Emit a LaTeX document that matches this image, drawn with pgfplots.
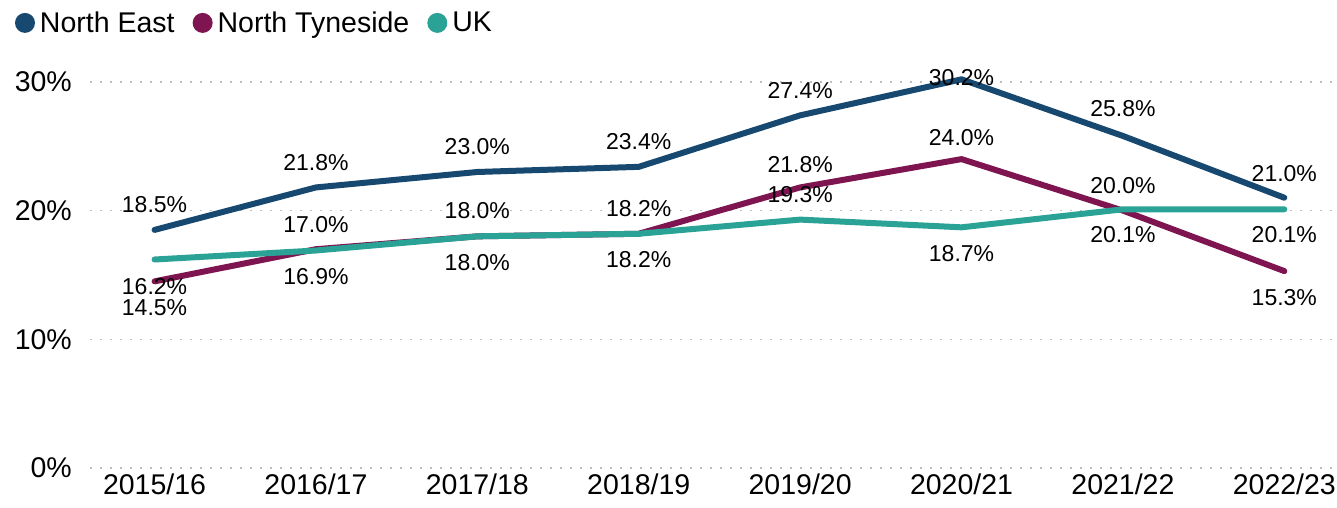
\documentclass[border=0pt]{standalone}
\usepackage{pgfplots}
\pgfplotsset{compat=1.18}
\usepackage{fontspec}
\setmainfont{Liberation Sans}
\definecolor{ne}{HTML}{174870}
\definecolor{nt}{HTML}{7E1450}
\definecolor{uk}{HTML}{2AA396}
\newcommand{\tickfont}{\fontsize{28.5}{30}\selectfont}
\newcommand{\labfont}{\fontsize{23}{25}\selectfont}
\tikzset{lbl/.style={font=\labfont, inner sep=0pt, anchor=center}}
\newcommand{\lab}[3]{\node[lbl,yshift=#3] at (axis cs:#1,#2) {#2\%};}
\begin{document}
\begin{tikzpicture}
\useasboundingbox (0,0) rectangle (1337pt,508pt);
\begin{axis}[at={(90pt,40pt)}, anchor=south west, scale only axis,
    width=1246pt, height=386.1pt,
    xmin=-0.4, xmax=7.32, ymin=0, ymax=30,
    axis line style={draw=none}, clip=false,
    xtick={0,...,7},
    xticklabels={2015/16,2016/17,2017/18,2018/19,2019/20,2020/21,2021/22,2022/23},
    ytick={0,10,20,30}, yticklabels={0\%,10\%,20\%,30\%},
    major tick length=0pt, tick style={draw=none},
    ymajorgrids,
    major grid style={color=black!25, line width=1.5pt, dash pattern=on 1.5pt off 8.5pt},
    xticklabel style={font=\tickfont, anchor=north, inner sep=0pt, yshift=-6pt},
    yticklabel style={font=\tickfont, anchor=east, inner sep=0pt, xshift=-18pt},
    every axis plot/.append style={line width=6pt, line cap=round, line join=round, no marks},
    legend columns=-1,
    legend style={at={(axis description cs:-0.0602,1.1528)}, anchor=west,
        draw=none, fill=none, inner sep=0pt, outer sep=0pt, column sep=0pt,
        /tikz/every even column/.append style={column sep=13pt},
        nodes={inner xsep=5pt, inner ysep=0pt, font=\tickfont}},
    legend image code/.code={\path[fill, draw=none] (10pt,0pt) circle (10pt);}
]
\addplot[color=ne] coordinates {(0,18.5) (1,21.8) (2,23.0) (3,23.4) (4,27.4) (5,30.2) (6,25.8) (7,21.0)};
\addlegendentry{North East}
\addplot[color=nt] coordinates {(0,14.5) (1,17.0) (2,18.0) (3,18.2) (4,21.8) (5,24.0) (6,20.0) (7,15.3)};
\addlegendentry{North Tyneside}
\addplot[color=uk] coordinates {(0,16.2) (1,16.9) (2,18.0) (3,18.2) (4,19.3) (5,18.7) (6,20.1) (7,20.1)};
\addlegendentry{UK}
% North East labels
\lab{0}{18.5}{25pt} \lab{1}{21.8}{25pt} \lab{2}{23.0}{25pt} \lab{3}{23.4}{25pt}
\lab{4}{27.4}{25pt} \lab{5}{30.2}{2pt} \lab{6}{25.8}{27pt} \lab{7}{21.0}{24pt}
% North Tyneside labels
\lab{0}{14.5}{-26pt} \lab{1}{17.0}{25pt} \lab{2}{18.0}{26pt} \lab{3}{18.2}{25pt}
\lab{4}{21.8}{23pt} \lab{5}{24.0}{22pt} \lab{6}{20.0}{25pt} \lab{7}{15.3}{-26pt}
% UK labels
\lab{0}{16.2}{-27pt} \lab{1}{16.9}{-26pt} \lab{2}{18.0}{-26pt} \lab{3}{18.2}{-26pt}
\lab{4}{19.3}{25pt} \lab{5}{18.7}{-26pt} \lab{6}{20.1}{-25pt} \lab{7}{20.1}{-25pt}
\end{axis}
\end{tikzpicture}
\end{document}
